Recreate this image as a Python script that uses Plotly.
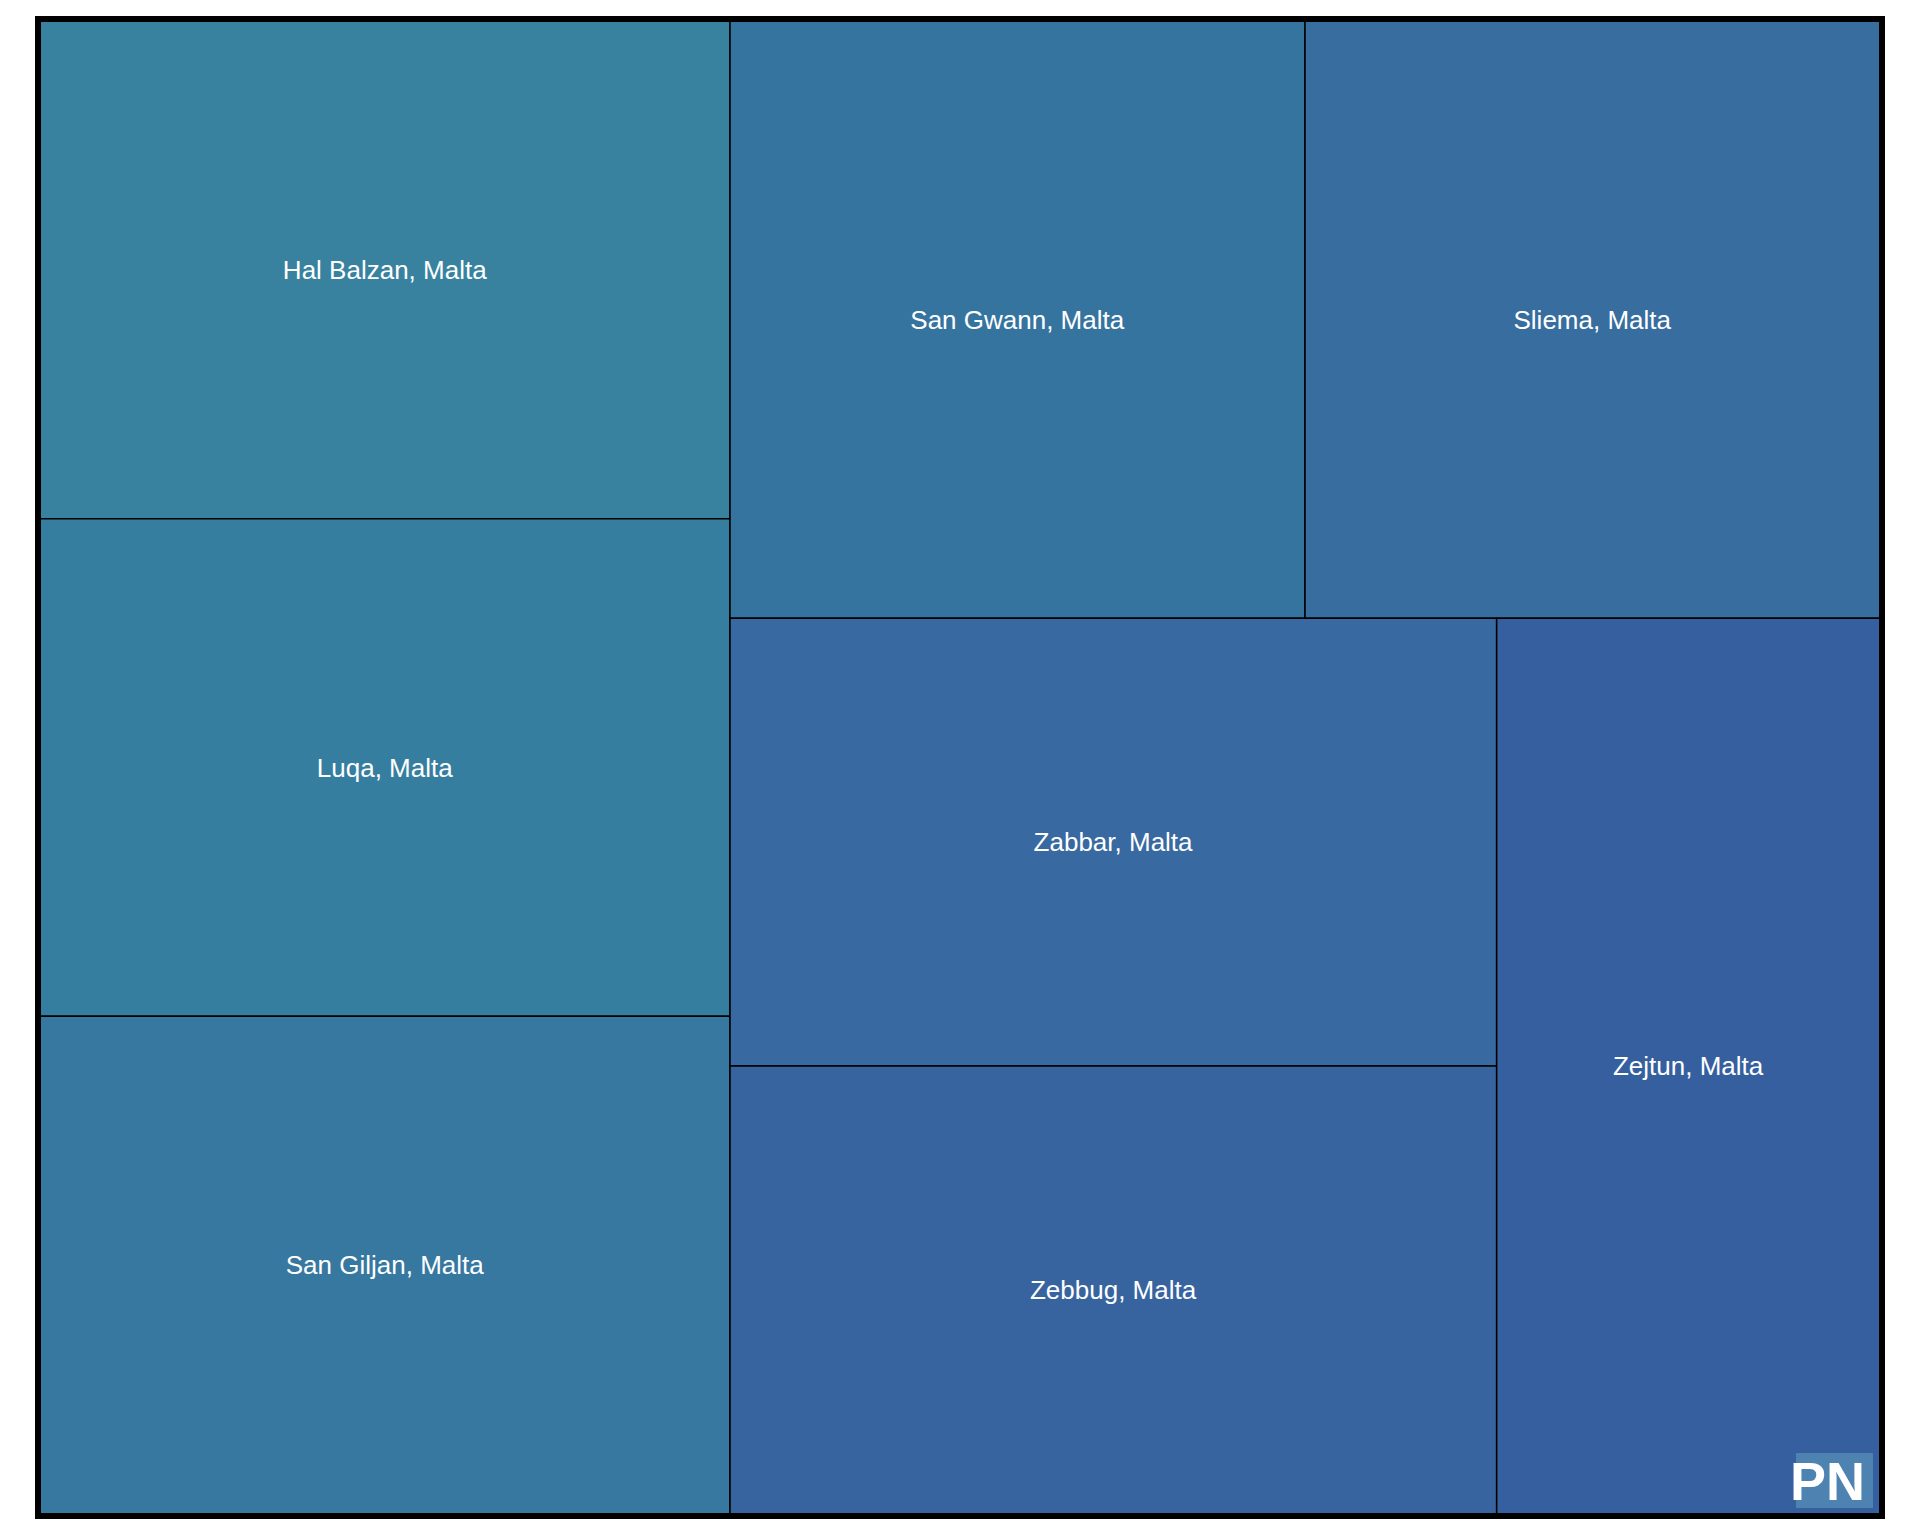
import plotly.graph_objects as go

towns = ['Hal Balzan, Malta', 'Luqa, Malta', 'San Giljan, Malta', 'San Gwann, Malta',
         'Sliema, Malta', 'Zabbar, Malta', 'Zebbug, Malta', 'Zejtun, Malta']
sizes = [1, 1, 1, 1, 1, 1, 1, 1]
tile_colors = ['#38829F', '#367E9F', '#3678A0', '#3674A0',
               '#376D9F', '#3869A0', '#37649F', '#365F9F']

# the page body adds an 8px margin, so the figure is a bit smaller than the window
OFF = 8
W, H = 1904, 1520


def fx(px):
    return (px - OFF) / W


def fy(px):
    return 1 - (px - OFF) / H


fig = go.Figure()
fig.add_trace(go.Treemap(
    labels=towns,
    parents=[''] * len(towns),
    values=sizes,
    marker=dict(colors=tile_colors, line=dict(color='black', width=1.5),
                pad=dict(t=0, l=0, r=0, b=0)),
    tiling=dict(pad=0),
    textposition='middle center',
    textfont=dict(family='Liberation Sans, Arial', size=26, color='white'),
    hoverinfo='skip',
    pathbar=dict(visible=False),
    domain=dict(x=[fx(40), fx(1880)], y=[fy(1514), fy(21)]),
))

# thick outer frame
fig.add_shape(type='rect', xref='paper', yref='paper',
              x0=fx(38), x1=fx(1882), y0=fy(1516), y1=fy(19),
              line=dict(color='black', width=6))

# PN badge in the corner
fig.add_shape(type='rect', xref='paper', yref='paper',
              x0=fx(1796), x1=fx(1873), y0=fy(1508), y1=fy(1453),
              fillcolor='#4E82B0', line=dict(width=0))
fig.add_annotation(text='<b>PN</b>', xref='paper', yref='paper',
                   x=fx(1827), y=fy(1481), xanchor='center', yanchor='middle',
                   showarrow=False,
                   font=dict(family='Liberation Sans, Arial', size=54, color='white'))

fig.update_layout(
    width=W, height=H,
    margin=dict(l=0, r=0, t=0, b=0),
    paper_bgcolor='white',
)

fig.write_html("out.html")
